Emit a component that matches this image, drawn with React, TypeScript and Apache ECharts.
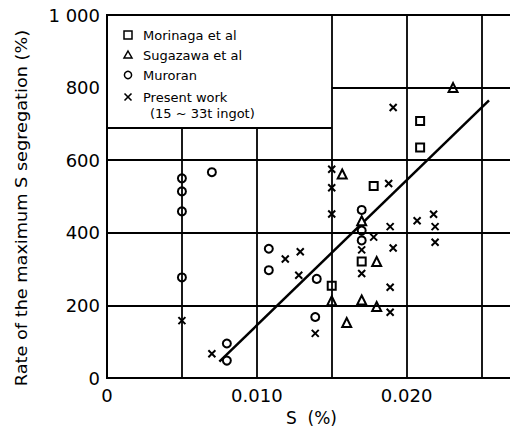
import React, { useEffect, useRef } from "react";
import * as echarts from "echarts";

// S content (%) and maximum S segregation rate (%) for each source
const morinagaS = [0.0209, 0.0209, 0.0178, 0.017, 0.015];
const morinagaRate = [708, 635, 529, 321, 254];

const sugazawaS = [0.0231, 0.0157, 0.017, 0.018, 0.015, 0.017, 0.018, 0.016];
const sugazawaRate = [800, 562, 433, 321, 213, 215, 197, 153];

const muroranS = [0.005, 0.005, 0.005, 0.005, 0.007, 0.008, 0.008, 0.0108, 0.0108, 0.014, 0.0139, 0.017, 0.017, 0.017];
const muroranRate = [550, 514, 459, 277, 567, 95, 48, 356, 297, 273, 168, 463, 406, 379];

const presentS = [
  0.005, 0.007, 0.0119, 0.0129, 0.0128, 0.0139, 0.015, 0.015, 0.015, 0.017, 0.017,
  0.0178, 0.0188, 0.0189, 0.0191, 0.0189, 0.0189, 0.0191, 0.0207, 0.0218, 0.0219, 0.0219,
];
const presentRate = [
  158, 67, 328, 348, 283, 123, 575, 524, 452, 353, 288,
  388, 536, 417, 358, 250, 181, 745, 433, 451, 417, 374,
];

// Fitted trend line end points
const fitS = [0.0075, 0.0255];
const fitRate = [45, 765];

// Axis ranges and tick labels
const sMax = 0.0273;
const rateTicks = [0, 200, 400, 600, 800, 1000];
const rateTickLabels = ["0", "200", "400", "600", "800", "1 000"];
const sTickLabels: Record<string, string> = { "0": "0", "0.01": "0.010", "0.02": "0.020" };

// Frame rulings inside the plot: [x1, y1, x2, y2] in data units
const legendBottom = 690;
const rulings: number[][] = [
  [0, 200, sMax, 200],
  [0, 400, sMax, 400],
  [0, 600, sMax, 600],
  [0.015, 800, sMax, 800],
  [0, legendBottom, 0.015, legendBottom],
  [0.005, 0, 0.005, legendBottom],
  [0.01, 0, 0.01, legendBottom],
  [0.015, 0, 0.015, 1000],
  [0.02, 0, 0.02, 1000],
  [0.025, 0, 0.025, 1000],
];

const legendNames = ["Morinaga et al", "Sugazawa et al", "Muroran", "Present work"];

const FONT = "DejaVu Sans";
const INK = "#000";

const pairs = (xs: number[], ys: number[]) => xs.map((x, i) => [x, ys[i]]);

const crossPath = "path://M0,0L10,10M10,0L0,10";

export default function App() {
  const ref = useRef<HTMLDivElement>(null);

  useEffect(() => {
    if (!ref.current) return;
    const chart = echarts.init(ref.current, null, { renderer: "svg" });

    const hollow = { color: INK, borderColor: INK, borderWidth: 1.8, opacity: 1 };
    const lx = 128;
    const rows = [35, 55, 75, 97];
    const s = 4;

    chart.setOption({
      animation: false,
      backgroundColor: "#fff",
      grid: {
        left: 107,
        right: 2,
        top: 15,
        bottom: 56,
        show: true,
        borderColor: INK,
        borderWidth: 2,
        backgroundColor: "transparent",
      },
      xAxis: {
        type: "value",
        min: 0,
        max: sMax,
        interval: 0.01,
        name: "S  (%)",
        nameLocation: "middle",
        nameGap: 31,
        nameTextStyle: { fontFamily: FONT, fontSize: 17, color: INK },
        axisLine: { show: true, lineStyle: { color: INK, width: 2 } },
        axisTick: { show: false },
        splitLine: { show: false },
        axisLabel: {
          showMaxLabel: false,
          margin: 8,
          fontFamily: FONT,
          fontSize: 18,
          color: INK,
          formatter: (v: number) => sTickLabels[String(Math.round(v * 1000) / 1000)] ?? "",
        },
      },
      yAxis: {
        type: "value",
        min: 0,
        max: 1000,
        interval: 200,
        axisLine: { show: true, lineStyle: { color: INK, width: 2 } },
        axisTick: { show: false },
        splitLine: { show: false },
        axisLabel: {
          margin: 7,
          fontFamily: FONT,
          fontSize: 18,
          color: INK,
          formatter: (v: number) => rateTickLabels[rateTicks.indexOf(v)] ?? "",
        },
      },
      series: [
        {
          type: "line",
          data: pairs(fitS, fitRate),
          symbol: "none",
          z: 1,
          lineStyle: { color: INK, width: 2.5 },
          markLine: {
            silent: true,
            symbol: "none",
            label: { show: false },
            lineStyle: { color: INK, width: 1.8, type: "solid" },
            data: rulings.map(([x1, y1, x2, y2]) => [{ coord: [x1, y1] }, { coord: [x2, y2] }]),
          },
        },
        {
          name: legendNames[0],
          type: "scatter",
          z: 3,
          symbol: "emptyRect",
          symbolSize: 8,
          itemStyle: hollow,
          data: pairs(morinagaS, morinagaRate),
        },
        {
          name: legendNames[1],
          type: "scatter",
          z: 3,
          symbol: "emptyTriangle",
          symbolSize: 9,
          itemStyle: hollow,
          data: pairs(sugazawaS, sugazawaRate),
        },
        {
          name: legendNames[2],
          type: "scatter",
          z: 3,
          symbol: "emptyCircle",
          symbolSize: 8,
          itemStyle: hollow,
          data: pairs(muroranS, muroranRate),
        },
        {
          name: legendNames[3],
          type: "scatter",
          z: 3,
          symbol: crossPath,
          symbolSize: 7,
          itemStyle: { color: INK, borderColor: INK, borderWidth: 2, opacity: 1 },
          data: pairs(presentS, presentRate),
        },
      ],
      graphic: [
        {
          type: "text",
          x: 22,
          y: 208,
          rotation: Math.PI / 2,
          scaleX: 1.18,
          style: {
            text: "Rate of the maximum S segregation (%)",
            fontFamily: FONT,
            fontSize: 15,
            fill: INK,
            align: "center",
            verticalAlign: "middle",
          },
        },
        {
          type: "rect",
          shape: { x: lx - s, y: rows[0] - s, width: 2 * s, height: 2 * s },
          style: { fill: "#fff", stroke: INK, lineWidth: 1.5 },
        },
        {
          type: "polygon",
          shape: { points: [[lx, rows[1] - s], [lx + s, rows[1] + s - 1], [lx - s, rows[1] + s - 1]] },
          style: { fill: "#fff", stroke: INK, lineWidth: 1.5 },
        },
        {
          type: "circle",
          shape: { cx: lx, cy: rows[2], r: 3.6 },
          style: { fill: "#fff", stroke: INK, lineWidth: 1.5 },
        },
        {
          type: "line",
          shape: { x1: lx - 3.5, y1: rows[3] - 3.5, x2: lx + 3.5, y2: rows[3] + 3.5 },
          style: { stroke: INK, lineWidth: 1.6 },
        },
        {
          type: "line",
          shape: { x1: lx + 3.5, y1: rows[3] - 3.5, x2: lx - 3.5, y2: rows[3] + 3.5 },
          style: { stroke: INK, lineWidth: 1.6 },
        },
        ...legendNames.map((name, i) => ({
          type: "text",
          x: 143,
          y: rows[i],
          style: {
            text: name,
            fontFamily: FONT,
            fontSize: 13,
            fill: INK,
            verticalAlign: "middle",
          },
        })),
        {
          type: "text",
          x: 150,
          y: 113,
          style: {
            text: "(15 ~ 33t ingot)",
            fontFamily: FONT,
            fontSize: 13,
            fill: INK,
            verticalAlign: "middle",
          },
        },
      ],
    });

    return () => chart.dispose();
  }, []);

  return <div ref={ref} style={{ width: 518, height: 434, margin: -8 }} />;
}
